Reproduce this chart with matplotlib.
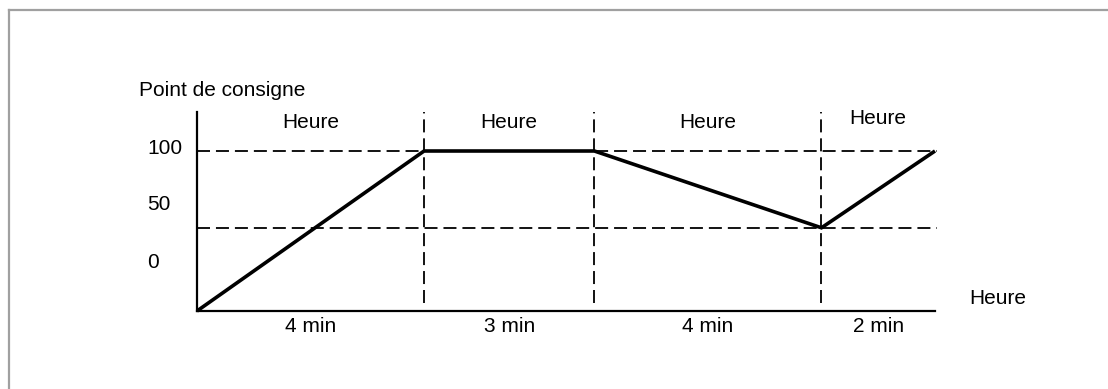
import matplotlib
matplotlib.use("Agg")
import matplotlib.pyplot as plt
from matplotlib.lines import Line2D

plt.rcParams["font.family"] = ["Liberation Sans", "DejaVu Sans"]

# Profil de consigne : durées des segments (min) et consignes aux extrémités
durations = [4, 3, 4, 2]
setpoints = [0, 100, 100, 52, 100]
segment_labels = ["Heure", "Heure", "Heure", "Heure"]
duration_labels = ["4 min", "3 min", "4 min", "2 min"]
level_lines = [100, 52]
level_labels = ["100", "50", "0"]

times = [0]
for d in durations:
    times.append(times[-1] + d)

W, H = 1108, 389
fig = plt.figure(figsize=(W / 100, H / 100), dpi=100)

# axes placées en pixels : x=0 -> 197 px, x=13 -> 935 px ; y=0 -> 311 px, haut -> 112 px
x0, x1 = 197, 935
yb, yt = 311, 112
ax = fig.add_axes([x0 / W, (H - yb) / H, (x1 - x0) / W, (yb - yt) / H])
px_per_unit = 1.6
ymax = (yb - yt) / px_per_unit
ax.set_xlim(0, times[-1])
ax.set_ylim(0, ymax)

for s in ("top", "right"):
    ax.spines[s].set_visible(False)
for s in ("left", "bottom"):
    ax.spines[s].set_linewidth(1.6)
    ax.spines[s].set_color("black")
ax.set_xticks([])
ax.set_yticks([])

dash = (7.2, 3.3)
for lv in level_lines:
    ax.plot([0, times[-1] * 1.003], [lv, lv], color="black", lw=1.3,
            dashes=dash, clip_on=False, zorder=2)
for t in times[1:-1]:
    ax.plot([t, t], [5, ymax], color="black", lw=1.3, dashes=dash,
            clip_on=False, zorder=2)

ax.plot(times, setpoints, color="black", lw=2.6, solid_capstyle="butt",
        solid_joinstyle="miter", zorder=3, clip_on=False)

fs = 15
for i, (lab, dl) in enumerate(zip(segment_labels, duration_labels)):
    mid = (times[i] + times[i + 1]) / 2
    ytop = 118 if i < 3 else 120
    ax.text(mid, ytop, lab, ha="center", va="center", fontsize=fs)
    ax.text(mid, -9.5, dl, ha="center", va="center", fontsize=fs)

# textes libres en pixels
def ptext(x, y, s, **kw):
    fig.text(x / W, 1 - y / H, s, fontsize=fs, va="center", **kw)

ptext(139, 90, "Point de consigne", ha="left")
ptext(147, 149, level_labels[0], ha="left")
ptext(147, 204, level_labels[1], ha="left")
ptext(147, 262, level_labels[2], ha="left")
ptext(998, 299, "Heure", ha="center")

# cadre gris (haut et gauche)
border = "#a0a0a0"
fig.add_artist(Line2D([9 / W, 1], [1 - 10 / H, 1 - 10 / H], color=border, lw=1.6,
                      transform=fig.transFigure))
fig.add_artist(Line2D([9 / W, 9 / W], [0, 1 - 10 / H], color=border, lw=1.6,
                      transform=fig.transFigure))

fig.savefig("out.png", dpi=100, facecolor="white")
